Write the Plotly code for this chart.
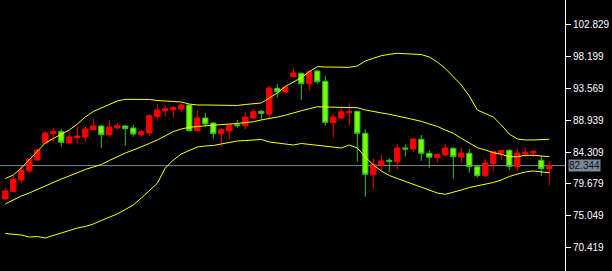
import plotly.graph_objects as go

opens = [77.51, 78.57, 80.26, 81.56, 83.15, 85.61, 86.96, 87.25, 85.61, 86.38,
         86.48, 87.54, 88.07, 86.81, 87.78, 88.07, 87.78, 86.81, 87.06, 89.42,
         90.28, 90.43, 90.53, 91.11, 87.39, 89.23, 88.50, 86.96, 87.35, 88.26,
         88.11, 89.23, 90.20, 89.81, 93.53, 92.99, 95.20, 95.70, 94.19, 96.03,
         94.54, 88.55, 89.23, 90.00, 90.20, 87.01, 81.02, 82.43, 83.11, 82.91,
         84.89, 84.74, 86.15, 84.12, 83.48, 83.87, 84.84, 83.59, 84.12, 82.18,
         80.88, 82.62, 84.16, 84.55, 82.18, 84.06, 84.16, 83.11, 81.89]
highs = [79.14, 80.98, 82.38, 83.35, 84.70, 87.25, 87.78, 87.64, 87.01, 88.07,
         87.97, 89.08, 88.22, 88.94, 88.50, 88.22, 88.22, 87.59, 89.81, 91.25,
         91.07, 90.96, 91.30, 91.21, 90.39, 89.95, 88.65, 87.74, 88.25, 88.94,
         90.14, 90.53, 90.39, 93.86, 94.15, 93.76, 96.46, 95.78, 96.17, 96.17,
         95.31, 89.76, 90.78, 91.36, 90.25, 87.59, 83.40, 83.98, 83.40, 85.47,
         85.42, 86.33, 86.77, 84.60, 84.00, 85.47, 84.99, 84.89, 84.74, 82.43,
         83.25, 84.50, 84.58, 84.70, 84.84, 84.89, 84.44, 83.73, 83.01]
lows = [77.45, 78.50, 79.78, 81.31, 83.01, 85.55, 85.80, 85.08, 85.57, 85.51,
        85.80, 87.50, 84.93, 86.52, 87.54, 85.22, 86.52, 86.52, 86.62, 88.84,
        89.42, 89.27, 90.10, 87.25, 87.35, 88.01, 86.23, 85.08, 86.19, 87.83,
        87.64, 89.08, 88.94, 89.23, 92.17, 92.80, 95.15, 91.83, 93.18, 94.19,
        88.11, 86.38, 89.04, 88.11, 82.91, 77.84, 79.00, 81.60, 81.42, 81.75,
        83.63, 84.35, 83.05, 82.04, 82.76, 83.73, 80.45, 82.76, 81.31, 80.59,
        80.59, 81.60, 83.15, 81.70, 81.60, 83.59, 83.59, 80.84, 79.53]
closes = [78.67, 80.40, 81.70, 83.30, 84.60, 87.06, 87.25, 85.71, 86.48, 86.62,
          87.64, 88.07, 86.81, 87.93, 88.11, 87.68, 86.91, 87.25, 89.56, 90.39,
          90.57, 90.72, 91.11, 87.39, 89.23, 88.36, 86.96, 87.54, 88.22, 88.11,
          89.37, 90.14, 89.91, 93.57, 93.03, 93.71, 95.74, 94.19, 95.93, 94.48,
          88.61, 89.37, 90.14, 90.14, 87.01, 81.08, 82.53, 83.01, 82.96, 84.89,
          84.74, 86.19, 84.12, 83.54, 83.98, 84.89, 83.63, 84.16, 82.18, 80.88,
          82.72, 84.35, 84.55, 82.24, 84.16, 84.31, 84.41, 81.89, 82.344]

bb_upper = [80.47, 80.98, 81.99, 83.15, 84.31, 85.61, 86.26, 86.84, 87.49, 88.36,
            89.37, 90.17, 90.68, 91.25, 91.69, 91.93, 91.93, 91.93, 91.91, 91.76,
            91.69, 91.62, 91.54, 91.25, 91.11, 91.11, 91.11, 91.11, 91.01, 91.04,
            91.18, 91.25, 91.40, 92.12, 92.85, 93.79, 94.39, 95.06, 95.93, 96.65,
            96.61, 96.61, 96.56, 96.56, 96.75, 97.48, 97.87, 98.24, 98.45, 98.59,
            98.53, 98.49, 98.41, 98.05, 97.33, 96.39, 95.23, 94.00, 92.41, 90.39,
            89.88, 89.37, 88.22, 86.91, 86.19, 86.05, 86.05, 86.15, 86.15]
bb_middle = [76.79, 77.36, 77.94, 78.38, 78.88, 79.39, 79.97, 80.40, 80.84, 81.34,
             81.78, 82.14, 82.50, 83.08, 83.63, 84.16, 84.60, 85.03, 85.54, 86.05,
             86.62, 87.25, 87.64, 87.88, 88.00, 88.11, 88.22, 88.29, 88.36, 88.43,
             88.55, 88.69, 88.94, 89.13, 89.37, 89.62, 90.00, 90.28, 90.57, 90.86,
             90.82, 90.82, 90.82, 90.82, 90.72, 90.39, 90.20, 90.00, 89.76, 89.52,
             89.27, 89.04, 88.75, 88.36, 88.01, 87.49, 87.01, 86.29, 85.57, 84.93,
             84.60, 84.21, 83.98, 83.63, 83.63, 83.83, 83.83, 83.73, 83.63]
bb_lower = [72.52, 72.44, 72.30, 72.01, 72.08, 71.87, 72.23, 72.59, 73.02, 73.31,
            73.53, 73.89, 74.40, 74.83, 75.34, 75.99, 76.64, 77.65, 78.67, 79.78,
            81.99, 83.15, 84.02, 84.53, 85.03, 85.18, 85.25, 85.47, 85.71, 85.90,
            85.97, 86.05, 86.12, 85.76, 85.61, 85.39, 85.32, 85.54, 85.39, 85.25,
            85.10, 85.03, 84.89, 85.32, 84.89, 83.59, 82.43, 81.56, 80.91, 80.47,
            80.04, 79.61, 79.20, 78.74, 78.38, 78.19, 78.45, 78.81, 79.17, 79.39,
            79.61, 79.90, 80.26, 80.76, 81.12, 81.41, 81.56, 81.46, 81.31]

tick_vals = [102.829, 98.199, 93.569, 88.939, 84.309, 79.679, 75.049, 70.419]
tick_text = ["102.829", "98.199", "93.569", "88.939", "84.309", "79.679", "75.049", "70.419"]
last_price = 82.344
last_label = "82.344"

x = list(range(len(opens)))

fig = go.Figure()

band_style = dict(color="#FFFF00", width=1)
for band in (bb_upper, bb_middle, bb_lower):
    fig.add_trace(go.Scatter(x=x, y=band, mode="lines", line=band_style,
                             showlegend=False, hoverinfo="skip"))

fig.add_trace(go.Candlestick(
    x=x, open=opens, high=highs, low=lows, close=closes,
    increasing=dict(line=dict(color="#FF0000", width=1), fillcolor="#FF0000"),
    decreasing=dict(line=dict(color="#2EC02E", width=1), fillcolor="#7CFC00"),
    whiskerwidth=0, showlegend=False,
))

fig.add_shape(type="line", xref="paper", x0=0, x1=1, yref="y",
              y0=last_price, y1=last_price,
              line=dict(color="#778899", width=1), layer="below")

fig.add_annotation(xref="paper", x=1, xanchor="left", xshift=3,
                   yref="y", y=last_price, yanchor="middle",
                   text=last_label, showarrow=False,
                   bgcolor="#778899", borderpad=0,
                   font=dict(family="Liberation Sans, Arial", size=10, color="#111111"))

fig.update_layout(
    width=612, height=271,
    margin=dict(l=0, r=47, t=0, b=0),
    paper_bgcolor="#000000", plot_bgcolor="#000000",
    boxgap=0.35, boxgroupgap=0,
    xaxis=dict(range=[-0.6625, 69.9625], showgrid=False, zeroline=False,
               showticklabels=False, rangeslider=dict(visible=False),
               fixedrange=True),
    yaxis=dict(range=[67.09, 106.3015], side="right", showgrid=False,
               zeroline=False, tickvals=tick_vals, ticktext=tick_text,
               ticks="outside", ticklen=5, tickcolor="#FFFFFF", tickwidth=1,
               showline=True, linecolor="#FFFFFF", linewidth=1,
               tickfont=dict(family="Liberation Sans, Arial", size=10, color="#FFFFFF"),
               fixedrange=True),
    font=dict(family="Liberation Sans, Arial", color="#FFFFFF"),
)

fig.write_html("out.html")
